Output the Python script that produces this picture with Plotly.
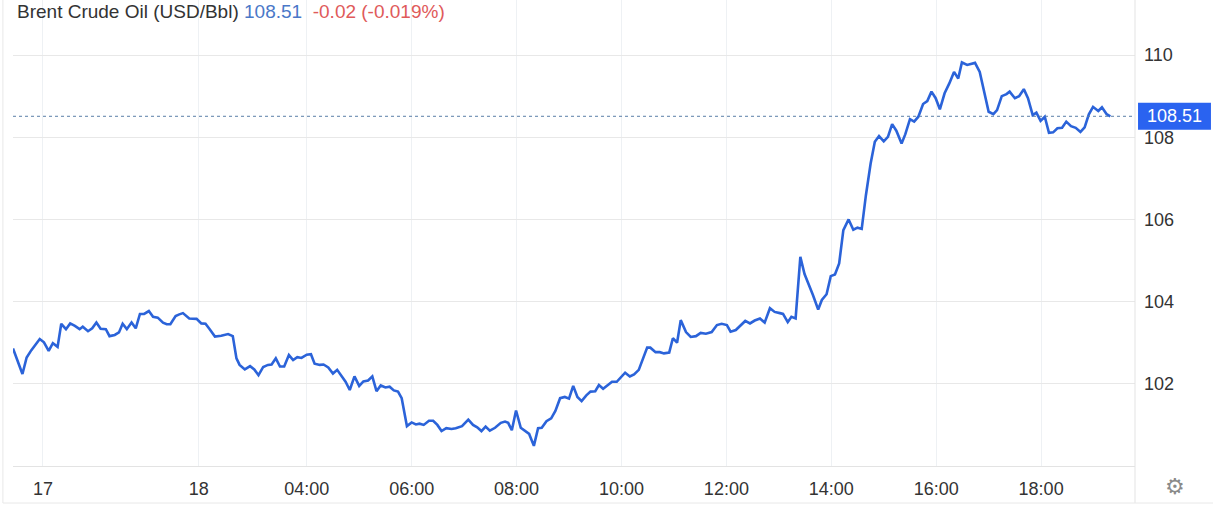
import plotly.graph_objects as go

# time in hours relative to 00:00 of the session day (x positions follow the chart's own time axis)
hours = [-1.60, -1.42, -1.34, -1.25, -1.09, -1.01, -0.92, -0.84, -0.75, -0.68,
         -0.59, -0.51, -0.42, -0.33, -0.27, -0.17, -0.09, -0.01, 0.07, 0.17,
         0.24, 0.34, 0.42, 0.49, 0.57, 0.66, 0.74, 0.82, 0.90, 0.99,
         1.07, 1.16, 1.26, 1.33, 1.40, 1.50, 1.57, 1.64, 1.76, 1.90,
         1.99, 2.07, 2.15, 2.25, 2.37, 2.50, 2.59, 2.66, 2.72, 2.82,
         2.92, 3.00, 3.08, 3.17, 3.26, 3.33, 3.41, 3.49, 3.57, 3.66,
         3.74, 3.82, 3.90, 4.00, 4.08, 4.15, 4.25, 4.32, 4.41, 4.50,
         4.58, 4.66, 4.74, 4.82, 4.91, 5.00, 5.08, 5.17, 5.25, 5.33,
         5.41, 5.50, 5.58, 5.66, 5.74, 5.81, 5.87, 5.91, 6.00, 6.08,
         6.15, 6.23, 6.33, 6.41, 6.49, 6.57, 6.66, 6.76, 6.84, 6.96,
         7.08, 7.17, 7.25, 7.33, 7.41, 7.49, 7.59, 7.70, 7.78, 7.84,
         7.91, 7.99, 8.08, 8.16, 8.24, 8.33, 8.41, 8.48, 8.57, 8.66,
         8.74, 8.83, 8.92, 9.00, 9.08, 9.16, 9.24, 9.33, 9.41, 9.50,
         9.57, 9.65, 9.74, 9.82, 9.91, 9.99, 10.07, 10.16, 10.24, 10.33,
         10.41, 10.49, 10.55, 10.65, 10.73, 10.81, 10.91, 10.98, 11.06, 11.13,
         11.23, 11.32, 11.42, 11.51, 11.61, 11.72, 11.82, 11.91, 12.01, 12.08,
         12.18, 12.27, 12.36, 12.45, 12.54, 12.64, 12.73, 12.83, 12.92, 13.02,
         13.08, 13.17, 13.24, 13.32, 13.41, 13.49, 13.58, 13.65, 13.75, 13.82,
         13.91, 13.99, 14.07, 14.15, 14.23, 14.33, 14.42, 14.50, 14.58, 14.66,
         14.75, 14.83, 14.91, 15.00, 15.08, 15.16, 15.24, 15.34, 15.41, 15.50,
         15.58, 15.66, 15.75, 15.83, 15.91, 15.99, 16.07, 16.16, 16.25, 16.34,
         16.42, 16.49, 16.59, 16.74, 16.83, 16.91, 17.00, 17.09, 17.16, 17.25,
         17.34, 17.40, 17.50, 17.58, 17.67, 17.75, 17.84, 17.91, 17.99, 18.07,
         18.15, 18.23, 18.31, 18.40, 18.48, 18.57, 18.66, 18.75, 18.83, 18.91,
         18.99, 19.09, 19.16, 19.25, 19.32]

prices = [102.86, 102.24, 102.64, 102.82, 103.09, 103.01, 102.80, 102.99, 102.90, 103.46,
          103.33, 103.47, 103.41, 103.33, 103.39, 103.28, 103.35, 103.49, 103.34, 103.33,
          103.16, 103.19, 103.25, 103.46, 103.33, 103.49, 103.35, 103.70, 103.70, 103.77,
          103.63, 103.61, 103.49, 103.45, 103.45, 103.65, 103.69, 103.72, 103.59, 103.58,
          103.47, 103.46, 103.33, 103.15, 103.17, 103.21, 103.16, 102.62, 102.46, 102.35,
          102.43, 102.35, 102.21, 102.41, 102.46, 102.47, 102.62, 102.42, 102.42, 102.70,
          102.58, 102.65, 102.63, 102.71, 102.72, 102.49, 102.46, 102.47, 102.40, 102.25,
          102.34, 102.19, 102.05, 101.85, 102.18, 101.95, 102.06, 102.08, 102.18, 101.82,
          101.96, 101.91, 101.93, 101.84, 101.81, 101.65, 101.28, 100.97, 101.06, 101.01,
          101.03, 101.00, 101.10, 101.10, 101.00, 100.85, 100.92, 100.90, 100.92, 100.97,
          101.13, 101.00, 100.94, 100.85, 100.96, 100.86, 100.93, 101.05, 101.08, 101.05,
          100.87, 101.35, 100.93, 100.86, 100.78, 100.49, 100.92, 100.93, 101.09, 101.16,
          101.34, 101.65, 101.68, 101.64, 101.95, 101.68, 101.58, 101.72, 101.81, 101.82,
          101.97, 101.88, 101.96, 102.05, 102.05, 102.15, 102.27, 102.18, 102.23, 102.34,
          102.62, 102.88, 102.88, 102.77, 102.77, 102.74, 102.76, 103.11, 103.00, 103.55,
          103.26, 103.14, 103.16, 103.24, 103.22, 103.26, 103.43, 103.46, 103.43, 103.27,
          103.31, 103.41, 103.53, 103.47, 103.54, 103.59, 103.49, 103.84, 103.75, 103.72,
          103.70, 103.50, 103.63, 103.59, 105.09, 104.67, 104.40, 104.16, 103.81, 104.04,
          104.18, 104.62, 104.66, 104.93, 105.74, 106.00, 105.75, 105.80, 105.77, 106.59,
          107.36, 107.89, 108.03, 107.90, 108.01, 108.32, 108.16, 107.85, 108.07, 108.44,
          108.38, 108.50, 108.81, 108.88, 109.11, 108.95, 108.68, 109.07, 109.31, 109.59,
          109.43, 109.82, 109.76, 109.81, 109.59, 109.15, 108.62, 108.56, 108.66, 109.00,
          109.05, 109.11, 108.95, 109.00, 109.17, 108.95, 108.54, 108.60, 108.40, 108.50,
          108.11, 108.12, 108.22, 108.23, 108.38, 108.27, 108.23, 108.13, 108.24, 108.56,
          108.74, 108.64, 108.73, 108.56, 108.51]

x_tick_vals = [-1.03, 1.94, 4, 6, 8, 10, 12, 14, 16, 18]
x_tick_text = ["17", "18", "04:00", "06:00", "08:00", "10:00", "12:00", "14:00", "16:00", "18:00"]
y_tick_vals = [102, 104, 106, 108, 110]
y_tick_text = ["102", "104", "106", "108", "110"]

title_name = "Brent Crude Oil (USD/Bbl)"
last_price = "108.51"
change_text = "-0.02 (-0.019%)"

FONT = "Liberation Sans, Arial, sans-serif"
LINE_BLUE = "#2b63d9"
BOX_BLUE = "#2a63f0"

fig = go.Figure()
fig.add_trace(go.Scatter(
    x=hours, y=prices, mode="lines",
    line=dict(color=LINE_BLUE, width=2.6),
    hoverinfo="skip", showlegend=False,
))

last = prices[-1]

fig.update_layout(
    width=1213, height=507,
    margin=dict(l=13, r=78, t=0, b=41),
    paper_bgcolor="white", plot_bgcolor="white",
    font=dict(family=FONT, size=18, color="#333333"),
    showlegend=False,
    xaxis=dict(
        range=[-1.60, 19.79],
        tickvals=x_tick_vals, ticktext=x_tick_text,
        showgrid=True, gridcolor="#eef1f4", gridwidth=1,
        showline=True, linecolor="#e3e3e3", linewidth=1,
        ticks="", zeroline=False,
        tickfont=dict(family=FONT, size=18, color="#333333"),
        ticklabelstandoff=6,
    ),
    yaxis=dict(
        range=[100.0, 111.34],
        side="right",
        tickvals=y_tick_vals, ticktext=y_tick_text,
        showgrid=True, gridcolor="#e8e8e8", gridwidth=1,
        showline=False, ticks="", zeroline=False,
        tickfont=dict(family=FONT, size=18, color="#333333"),
        ticklabelstandoff=8,
    ),
)

shapes = [
    dict(type="line", xref="paper", yref="y", x0=0, x1=1, y0=last, y1=last,
         line=dict(color="#5a7fa8", width=1, dash="dot"), layer="above"),
    dict(type="line", xref="paper", yref="paper", x0=1, x1=1, y0=-0.0794, y1=1,
         line=dict(color="#e3e3e3", width=1), layer="above"),
    dict(type="line", xref="paper", yref="paper", x0=-0.009, x1=-0.009, y0=-0.0794, y1=1,
         line=dict(color="#e8e8e8", width=1), layer="above"),
    dict(type="line", xref="paper", yref="paper", x0=-0.009, x1=1.07, y0=-0.0794, y1=-0.0794,
         line=dict(color="#e8e8e8", width=1), layer="above"),
    dict(type="rect", xref="paper", yref="y", x0=1.0027, x1=1.0677,
         y0=last - 0.33, y1=last + 0.33,
         fillcolor=BOX_BLUE, line=dict(width=0), layer="above"),
]
fig.update_layout(shapes=shapes)

fig.add_annotation(
    xref="paper", yref="y", x=1.0352, y=last, xanchor="center", yanchor="middle",
    text=last_price, showarrow=False,
    font=dict(family=FONT, size=18, color="white"),
)
fig.add_annotation(
    xref="paper", yref="paper", x=0.0018, y=0.976, xanchor="left", yanchor="middle",
    text=(f"{title_name} <span style='color:#4a78c8'>{last_price}</span>&nbsp;&nbsp;"
          f"<span style='color:#e05a5a'>{change_text}</span>"),
    showarrow=False, font=dict(family=FONT, size=19, color="#333333"),
)
fig.add_annotation(
    xref="paper", yref="paper", x=1.0357, y=-0.043, xanchor="center", yanchor="middle",
    text="⚙", showarrow=False,
    font=dict(family="DejaVu Sans", size=22, color="#8a8a8a"),
)

# remove the default page margin so the figure sits at the window's top-left corner
fig.write_html("out.html", config={"displayModeBar": False},
               post_script="document.body.style.margin='0';")
